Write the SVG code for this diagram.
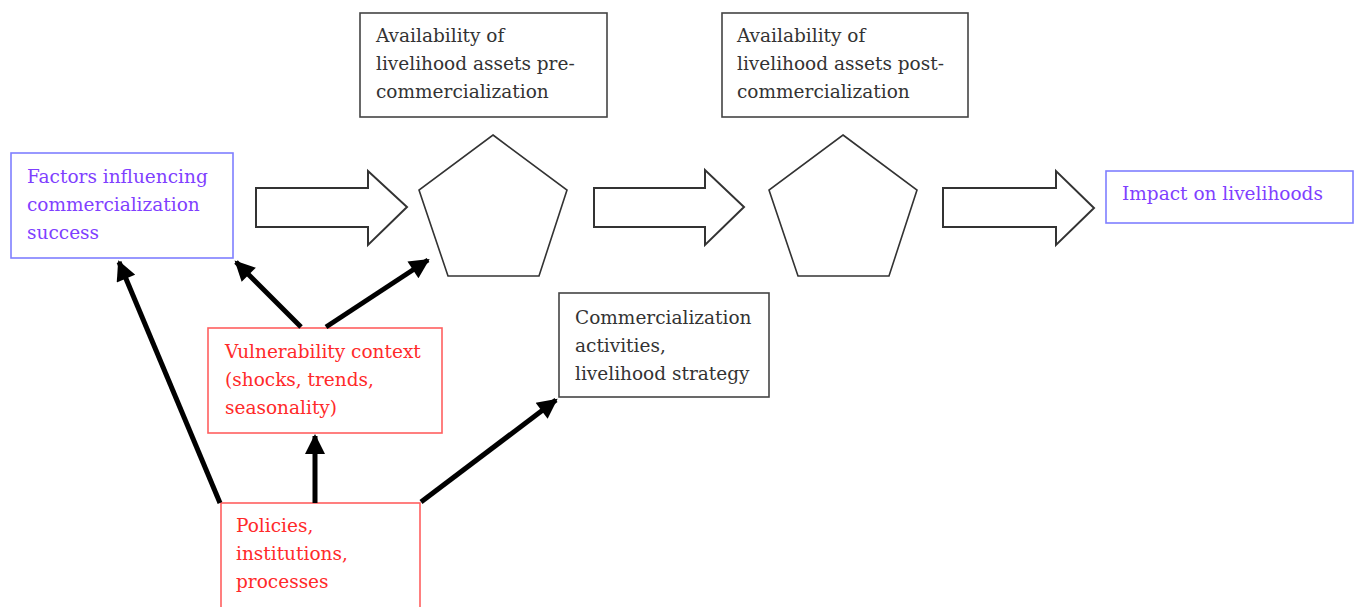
<svg xmlns="http://www.w3.org/2000/svg" width="1355" height="607" viewBox="0 0 1355 607">
<defs>
<marker id="ah" viewBox="0 0 10 10" refX="9" refY="5" markerWidth="4.4" markerHeight="4" markerUnits="strokeWidth" orient="auto">
<path d="M0,0 L10,5 L0,10 z" fill="#000"/>
</marker>
<style>
text{font-family:"DejaVu Serif","Liberation Serif",serif;font-size:18.5px}
.blue rect{fill:#fff;stroke:#7f7fff;stroke-width:1.6}
.blue text{fill:#7f3fff}
.red rect{fill:#fff;stroke:#ff5f5f;stroke-width:1.6}
.red text{fill:#ff2a2a}
.plain rect{fill:#fff;stroke:#444;stroke-width:1.6}
.plain text{fill:#333}
.pent{fill:#fff;stroke:#333;stroke-width:1.6}
.barrow{fill:#fff;stroke:#333;stroke-width:2}
.conn line{stroke:#000;stroke-width:5;marker-end:url(#ah)}
</style>
</defs>
<rect width="1355" height="607" fill="#fff"/>

<g id="factors" class="blue">
<rect x="11" y="153" width="222" height="105"/>
<text x="27" y="183">Factors influencing</text>
<text x="27" y="211">commercialization</text>
<text x="27" y="239">success</text>
</g>

<g id="pre" class="plain">
<rect x="360" y="13" width="247" height="104"/>
<text x="376" y="42">Availability of</text>
<text x="376" y="70">livelihood assets pre-</text>
<text x="376" y="98">commercialization</text>
</g>

<g id="post" class="plain">
<rect x="722" y="13" width="246" height="104"/>
<text x="737" y="42">Availability of</text>
<text x="737" y="70">livelihood assets post-</text>
<text x="737" y="98">commercialization</text>
</g>

<g id="pentagon1"><polygon class="pent" points="493,135 567,190 539,276 448,276 419,190"/></g>
<g id="pentagon2"><polygon class="pent" points="843,135 917,190 889,276 798,276 769,190"/></g>

<g id="blockarrow1"><polygon class="barrow" points="256,188 368,188 368,171 407,207 368,245 368,227 256,227"/></g>
<g id="blockarrow2"><polygon class="barrow" points="594,188 705,188 705,170 744,207 705,245 705,227 594,227"/></g>
<g id="blockarrow3"><polygon class="barrow" points="943,188 1056,188 1056,171 1094,208 1056,245 1056,227 943,227"/></g>

<g id="impact" class="blue">
<rect x="1106" y="171" width="247" height="52"/>
<text x="1122" y="200">Impact on livelihoods</text>
</g>

<g id="vulnerability" class="red">
<rect x="208" y="328" width="234" height="105"/>
<text x="225" y="358">Vulnerability context</text>
<text x="225" y="386">(shocks, trends,</text>
<text x="225" y="414">seasonality)</text>
</g>

<g id="policies" class="red">
<rect x="221" y="503" width="199" height="110"/>
<text x="236" y="532">Policies,</text>
<text x="236" y="560">institutions,</text>
<text x="236" y="588">processes</text>
</g>

<g id="activities" class="plain">
<rect x="559" y="293" width="210" height="104"/>
<text x="575" y="324">Commercialization</text>
<text x="575" y="352">activities,</text>
<text x="575" y="380">livelihood strategy</text>
</g>

<g id="connectors" class="conn">
<line x1="220" y1="503" x2="119" y2="262"/>
<line x1="301" y1="327" x2="236" y2="262"/>
<line x1="326" y1="327" x2="428" y2="260"/>
<line x1="315" y1="503" x2="315" y2="436"/>
<line x1="421" y1="502" x2="556" y2="400"/>
</g>
</svg>
